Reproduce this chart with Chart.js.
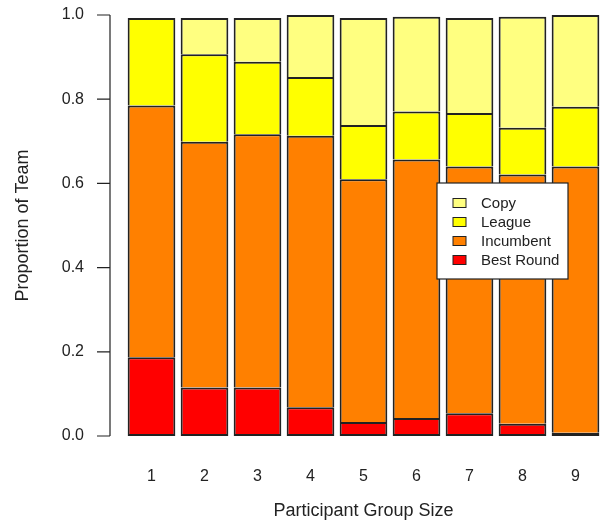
<!DOCTYPE html>
<html>
<head>
<meta charset="utf-8">
<script src="https://cdn.jsdelivr.net/npm/chart.js@4"></script>
<style>
  html, body { margin: 0; padding: 0; background: #fff; }
  #wrap { width: 602px; height: 521px; }
</style>
</head>
<body>
<div id="wrap"><canvas id="teamChart"></canvas></div>
<script>
const groupSizes = ['1', '2', '3', '4', '5', '6', '7', '8', '9'];
const bestRound = [0.187, 0.115, 0.115, 0.068, 0.033, 0.043, 0.054, 0.029, 0.008];
const incumbent = [0.598, 0.584, 0.602, 0.645, 0.577, 0.614, 0.586, 0.592, 0.632];
const league    = [0.208, 0.208, 0.172, 0.140, 0.129, 0.114, 0.127, 0.111, 0.142];
const copy      = [0.000, 0.086, 0.104, 0.147, 0.254, 0.225, 0.226, 0.264, 0.218];
const yTicks = [0, 0.2, 0.4, 0.6, 0.8, 1.0];

const ink = '#222';
const fontFamily = '"Liberation Sans", Arial, sans-serif';

// bottom segment keeps its base edge, upper ones share the edge below them
function bar(label, data, color, skip) {
    return {
        label: label,
        data: data,
        backgroundColor: color,
        borderColor: ink,
        borderWidth: 2,
        borderSkipped: skip,
        barPercentage: 0.9,
        categoryPercentage: 1,
        clip: 4
    };
}

// R style y axis: detached line with outward ticks
const rAxis = {
    id: 'rAxis',
    afterDraw(chart) {
        const y = chart.scales.y;
        const ctx = chart.ctx;
        const x0 = chart.chartArea.left - 15;
        ctx.save();
        ctx.strokeStyle = ink;
        ctx.lineWidth = 1.2;
        ctx.beginPath();
        ctx.moveTo(x0, y.getPixelForValue(0));
        ctx.lineTo(x0, y.getPixelForValue(1));
        yTicks.forEach(function (v) {
            const py = y.getPixelForValue(v);
            ctx.moveTo(x0 - 13, py);
            ctx.lineTo(x0, py);
        });
        ctx.stroke();
        ctx.restore();
    }
};

// legend box inside the plot, top entry first
const boxLegend = {
    id: 'boxLegend',
    afterDraw(chart) {
        const ctx = chart.ctx;
        const left = 437, top = 183, w = 131, h = 96;
        ctx.save();
        ctx.fillStyle = '#fff';
        ctx.fillRect(left, top, w, h);
        ctx.strokeStyle = ink;
        ctx.lineWidth = 1.2;
        ctx.strokeRect(left, top, w, h);
        ctx.font = '15px ' + fontFamily;
        ctx.textBaseline = 'middle';
        const sets = chart.data.datasets.slice().reverse();
        sets.forEach(function (ds, i) {
            const cy = top + 20 + i * 19;
            ctx.fillStyle = ds.backgroundColor;
            ctx.fillRect(453, cy - 4.5, 13, 9);
            ctx.lineWidth = 1;
            ctx.strokeRect(453, cy - 4.5, 13, 9);
            ctx.fillStyle = ink;
            ctx.fillText(ds.label, 481, cy + 0.5);
        });
        ctx.restore();
    }
};

new Chart(document.getElementById('teamChart'), {
    type: 'bar',
    data: {
        labels: groupSizes,
        datasets: [
            bar('Best Round', bestRound, '#FF0000', false),
            bar('Incumbent', incumbent, '#FF8000', 'start'),
            bar('League', league, '#FFFF00', 'start'),
            bar('Copy', copy, '#FFFF80', 'start')
        ]
    },
    plugins: [rAxis, boxLegend],
    options: {
        responsive: true,
        maintainAspectRatio: false,
        animation: false,
        layout: { padding: { top: 15, right: 0, left: 0, bottom: 0 } },
        plugins: {
            legend: { display: false },
            tooltip: { enabled: false }
        },
        scales: {
            x: {
                stacked: true,
                grid: { display: false, drawTicks: false },
                border: { display: false },
                ticks: { color: ink, font: { family: fontFamily, size: 16 }, padding: 31 },
                title: {
                    display: true,
                    text: 'Participant Group Size',
                    color: ink,
                    font: { family: fontFamily, size: 18, lineHeight: 1 },
                    padding: { top: 0, bottom: 1 }
                },
                afterFit(scale) {
                    scale.height = 85;
                    scale.paddingLeft = 0;
                    scale.paddingRight = 0;
                }
            },
            y: {
                stacked: true,
                min: 0,
                max: 1,
                grid: { display: false, drawTicks: false },
                border: { display: false },
                ticks: {
                    stepSize: 0.2,
                    color: ink,
                    font: { family: fontFamily, size: 16 },
                    padding: 41,
                    callback: function (v) { return v.toFixed(1); }
                },
                title: {
                    display: true,
                    text: 'Proportion of Team',
                    color: ink,
                    font: { family: fontFamily, size: 18 },
                    padding: { top: 12, bottom: 0 }
                },
                afterFit(scale) {
                    scale.width = 125;
                    scale.paddingTop = 0;
                    scale.paddingBottom = 0;
                }
            }
        }
    }
});
</script>
</body>
</html>
